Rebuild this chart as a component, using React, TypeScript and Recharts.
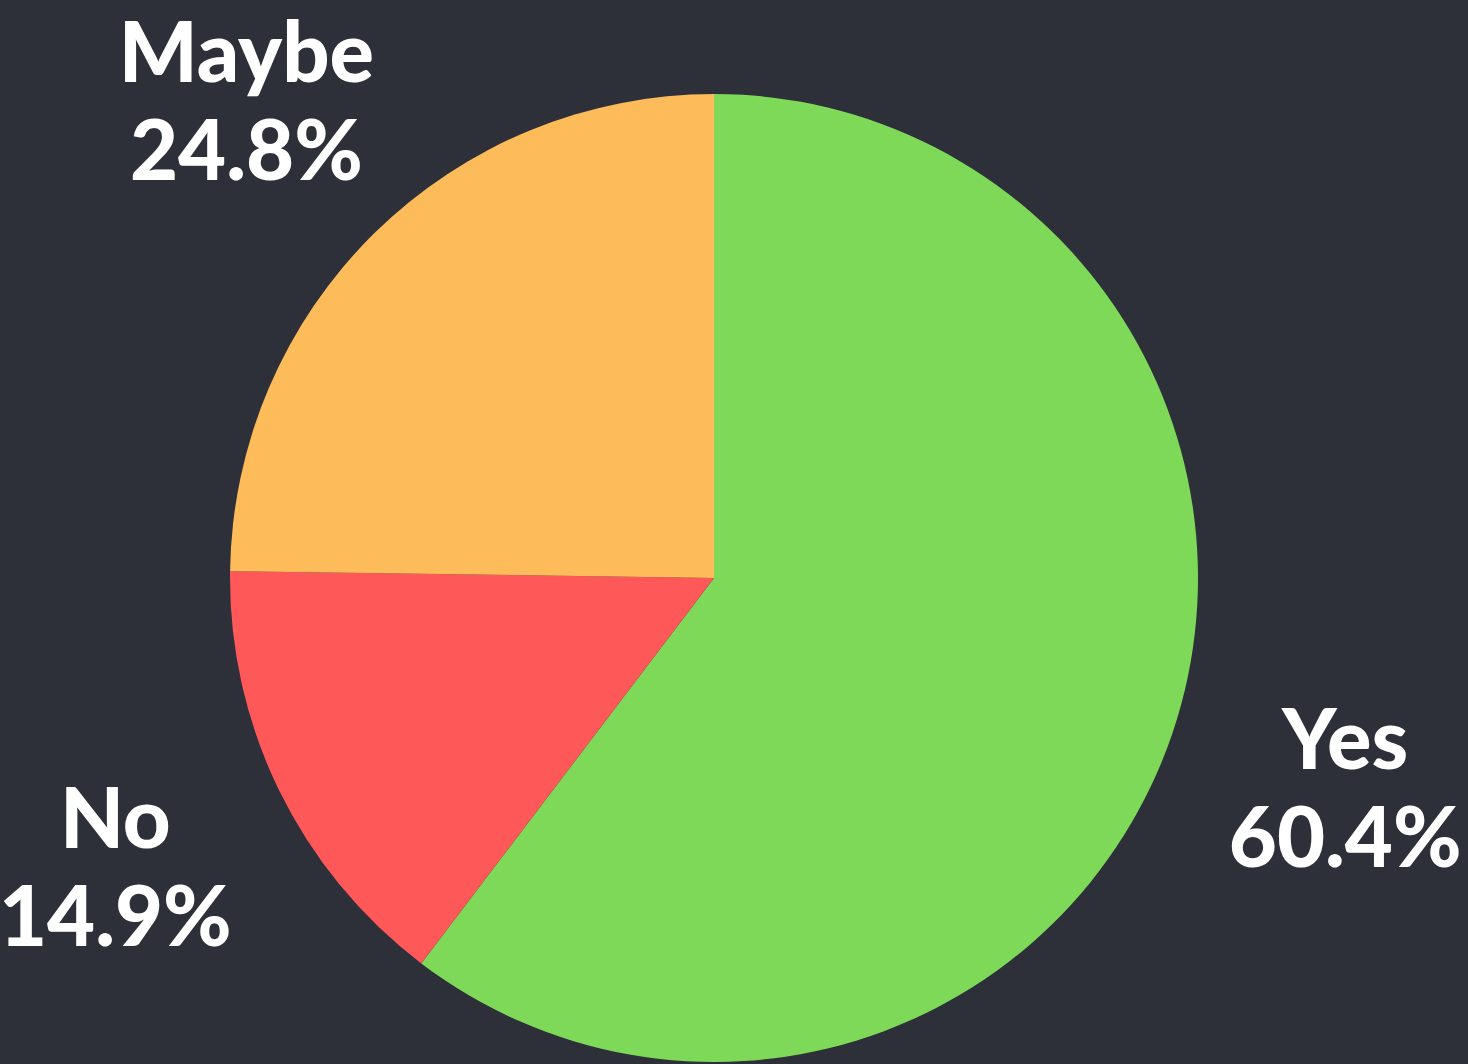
import { PieChart, Pie, Cell } from "recharts";

const categories = ["Yes", "No", "Maybe"];
const shares = [60.4, 14.9, 24.8];
const colors = ["#7fd959", "#ff5859", "#fdbb59"];

const data = categories.map((name, i) => ({ name, value: shares[i] }));

const RADIAN = Math.PI / 180;

function renderLabel(props: any) {
  const { cx, cy, midAngle, outerRadius, name, value } = props;
  const r = outerRadius + 182;
  const x = cx + r * Math.cos(-midAngle * RADIAN);
  const y = cy + r * Math.sin(-midAngle * RADIAN);
  return (
    <text
      x={x}
      y={y}
      fill="#ffffff"
      textAnchor="middle"
      fontFamily="Lato, sans-serif"
      fontWeight={900}
      fontSize={83}
    >
      <tspan x={x} y={y - 22}>
        {name}
      </tspan>
      <tspan x={x} y={y + 76}>
        {`${value}%`}
      </tspan>
    </text>
  );
}

export default function App() {
  return (
    <div
      style={{
        position: "fixed",
        top: 0,
        left: 0,
        width: 1468,
        height: 1064,
        background: "#2d2f39",
      }}
    >
      <PieChart
        width={1468}
        height={1064}
        margin={{ top: 0, right: 0, bottom: 0, left: 0 }}
      >
        <Pie
          data={data}
          dataKey="value"
          nameKey="name"
          cx={714}
          cy={578}
          outerRadius={484}
          startAngle={90}
          endAngle={-270}
          stroke="none"
          label={renderLabel}
          labelLine={false}
          isAnimationActive={false}
        >
          {data.map((d, i) => (
            <Cell key={d.name} fill={colors[i]} />
          ))}
        </Pie>
      </PieChart>
    </div>
  );
}
